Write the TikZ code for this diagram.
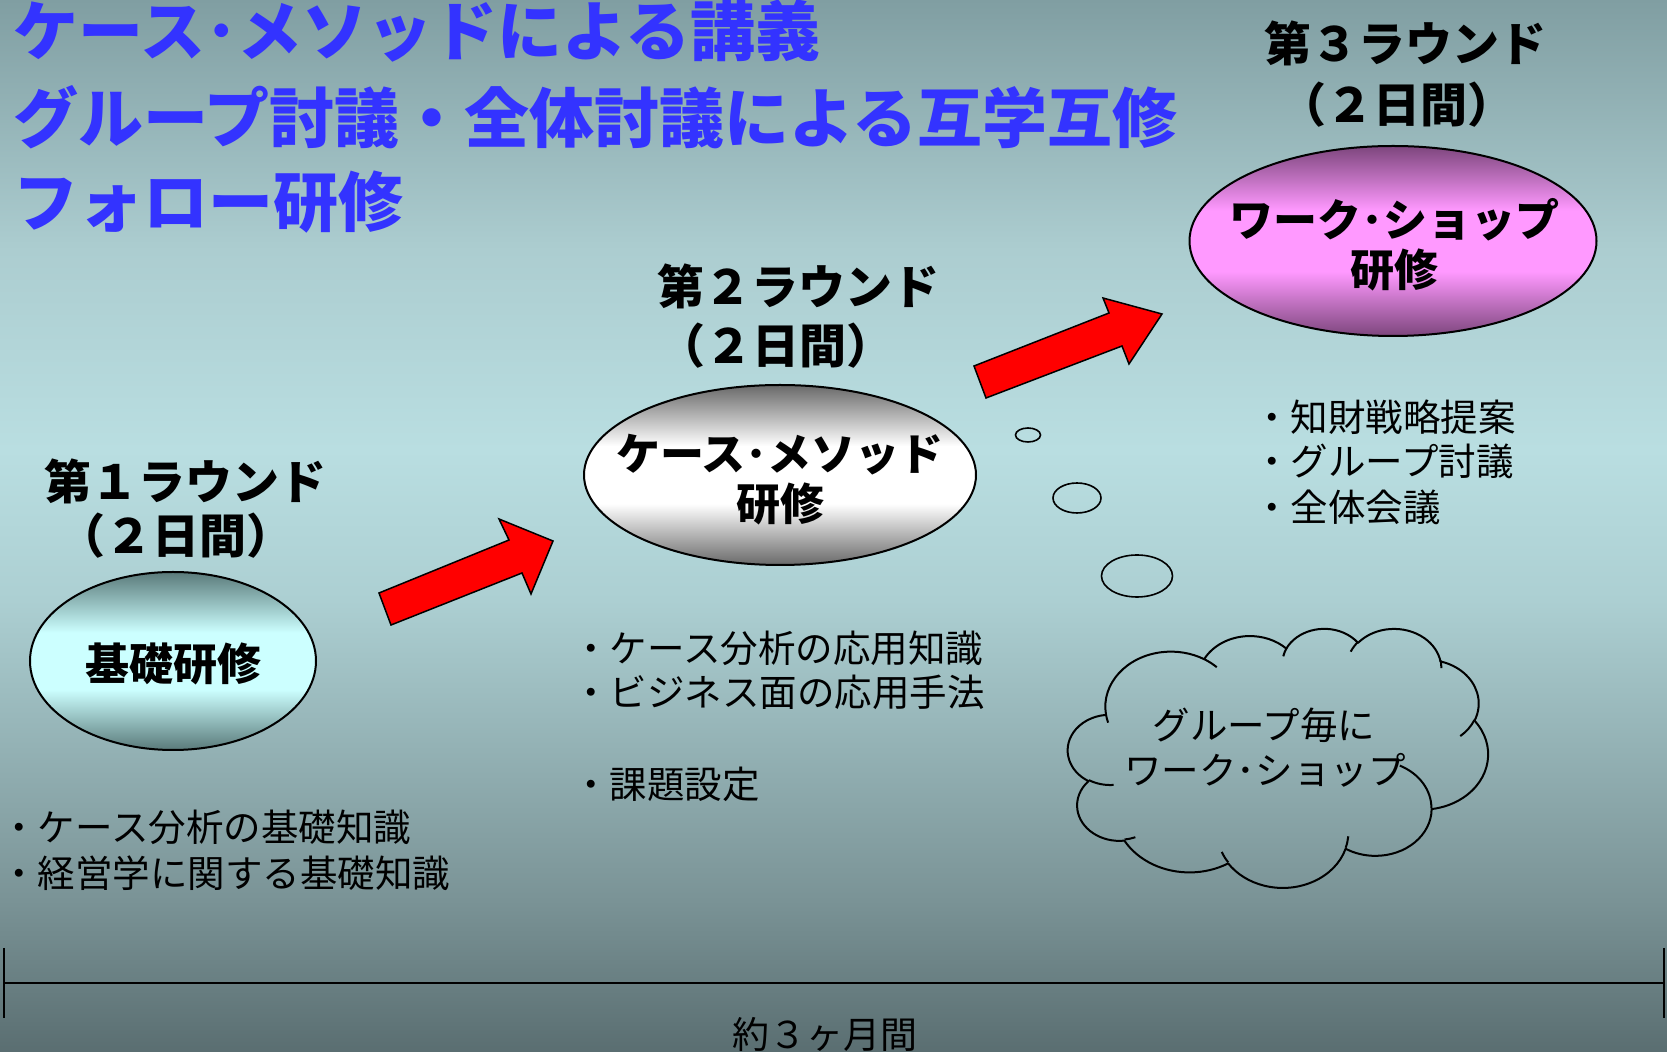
\documentclass[tikz,border=0pt]{standalone}
\usepackage{fontspec}
\setmainfont{Noto Sans CJK JP}
\usetikzlibrary{shapes.geometric}
\definecolor{bgTop}{RGB}{128,158,162}
\definecolor{bgA}{RGB}{172,205,208}
\definecolor{bgMid}{RGB}{185,222,225}
\definecolor{bgB}{RGB}{172,207,210}
\definecolor{bgC}{RGB}{122,147,150}
\definecolor{bgBot}{RGB}{90,110,113}
\definecolor{titleblue}{RGB}{51,51,255}
\definecolor{eAdark}{RGB}{90,122,122}
\definecolor{eAlight}{RGB}{204,255,255}
\definecolor{eBdark}{RGB}{105,105,105}
\definecolor{eBlight}{RGB}{255,255,255}
\definecolor{eCdark}{RGB}{125,70,125}
\definecolor{eClight}{RGB}{255,153,255}
\pgfdeclareverticalshading{bgshade}{100bp}{color(0bp)=(bgBot); color(25bp)=(bgBot); color(32.22bp)=(bgC); color(46.48bp)=(bgB); color(53.61bp)=(bgMid); color(63.12bp)=(bgA); color(75bp)=(bgTop); color(100bp)=(bgTop)}
\pgfdeclareverticalshading{eAshade}{100bp}{color(0bp)=(eAdark); color(25bp)=(eAdark); color(42bp)=(eAlight); color(58bp)=(eAlight); color(75bp)=(eAdark); color(100bp)=(eAdark)}
\pgfdeclareverticalshading{eBshade}{100bp}{color(0bp)=(eBdark); color(25bp)=(eBdark); color(42bp)=(eBlight); color(58bp)=(eBlight); color(75bp)=(eBdark); color(100bp)=(eBdark)}
\pgfdeclareverticalshading{eCshade}{100bp}{color(0bp)=(eCdark); color(25bp)=(eCdark); color(42bp)=(eClight); color(58bp)=(eClight); color(75bp)=(eCdark); color(100bp)=(eCdark)}
\begin{document}
\begin{tikzpicture}[x=0.5pt,y=-0.5pt,
  titlestyle/.style={anchor=west, inner sep=0pt, text=titleblue, font=\fontsize{32.5}{39}\selectfont\bfseries},
  roundlbl/.style={inner sep=0pt, font=\fontsize{23.5}{28}\selectfont\bfseries},
  ovaltext/.style={inner sep=0pt, align=center, font=\fontsize{22}{25}\selectfont\bfseries},
  bulletline/.style={anchor=west, inner sep=0pt, font=\fontsize{18.75}{22}\selectfont},
  plaintext/.style={inner sep=0pt, font=\fontsize{18.75}{22}\selectfont},
  oval/.style={ellipse, draw=black, line width=1pt, inner sep=0pt},
  bubble/.style={ellipse, draw=black, line width=0.8pt, inner sep=0pt},
  blockarrow/.style={fill=red, draw=black, line width=0.75pt, line join=miter},
  cloudline/.style={draw=black, line width=1pt, line join=round}]
\useasboundingbox (0,0) rectangle (1667,1052);
\shade[shading=bgshade] (0,0) rectangle (1667,1052);

% title
\node[titlestyle] (t1) at (13,31) {ケース･メソッドによる講義};
\node[titlestyle] (t2) at (13,117) {グループ討議・全体討議による互学互修};
\node[titlestyle] (t3) at (13,202) {フォロー研修};

% round labels
\node[roundlbl] (r1) at (186,481) {第１ラウンド};
\node[roundlbl] (r1d) at (176,536) {（２日間）};
\node[roundlbl] (r2) at (798,286) {第２ラウンド};
\node[roundlbl] (r2d) at (776,346) {（２日間）};
\node[roundlbl] (r3) at (1405,43) {第３ラウンド};
\node[roundlbl] (r3d) at (1397,105) {（２日間）};

% ovals
\node[oval, shading=eAshade, minimum width=143pt, minimum height=89pt] (e1) at (173,661) {};
\node[ovaltext] (e1t) at (173,664) {基礎研修};
\node[oval, shading=eBshade, minimum width=196pt, minimum height=90pt] (e2) at (780,475) {};
\node[ovaltext] (e2t) at (780,480) {ケース･メソッド\\研修};
\node[oval, shading=eCshade, minimum width=203.5pt, minimum height=95pt] (e3) at (1393,241) {};
\node[ovaltext] (e3t) at (1394,245) {ワーク･ショップ\\研修};

% block arrows
\draw[blockarrow] (379,593) -- (509,540) -- (499,519) -- (553,541) -- (531,594) -- (522,573) -- (391,625) -- cycle;
\draw[blockarrow] (974,366) -- (1109,313) -- (1103,298) -- (1162,314) -- (1129,364) -- (1122,346) -- (986,398) -- cycle;

% bullets
\node[bulletline] (b1a) at (0,827) {・ケース分析の基礎知識};
\node[bulletline] (b1b) at (0,873) {・経営学に関する基礎知識};
\node[bulletline] (b2a) at (572,648) {・ケース分析の応用知識};
\node[bulletline] (b2b) at (572,692) {・ビジネス面の応用手法};
\node[bulletline] (b2c) at (572,784) {・課題設定};
\node[bulletline] (b3a) at (1253,417) {・知財戦略提案};
\node[bulletline] (b3b) at (1253,461) {・グループ討議};
\node[bulletline] (b3c) at (1253,507) {・全体会議};

% thought bubbles
\node[bubble, minimum width=12.5pt, minimum height=7pt] (tb1) at (1028,435) {};
\node[bubble, minimum width=24pt, minimum height=15pt] (tb2) at (1077,498) {};
\node[bubble, minimum width=35.5pt, minimum height=21pt] (tb3) at (1137,576) {};

% cloud (PowerPoint cloud geometry, path units /100)
\begin{scope}[shift={(1068,628)}, xscale=0.97222, yscale=0.59954]
\draw[cloudline] (39.00,143.70)
 arc[start angle=-187.747, delta angle=128.107, x radius=67.53, y radius=91.90]
 arc[start angle=-152.02, delta angle=106.57, x radius=53.33, y radius=72.67]
 arc[start angle=-153.49, delta angle=116.17, x radius=43.65, y radius=59.45]
 arc[start angle=-139.69, delta angle=129.48, x radius=48.57, y radius=65.95]
 arc[start angle=-74.77, delta angle=97.98, x radius=53.33, y radius=72.73]
 arc[start angle=-37.52, delta angle=119.38, x radius=67.75, y radius=92.20]
 arc[start angle=0.46, delta angle=121.52, x radius=57.85, y radius=78.67]
 arc[start angle=16.85, delta angle=129.40, x radius=67.52, y radius=92.15]
 arc[start angle=58.98, delta angle=91.22, x radius=77.20, y radius=105.43]
 arc[start angle=83.31, delta angle=139.82, x radius=43.60, y radius=59.18]
 arc[start angle=120.36, delta angle=143.75, x radius=43.45, y radius=59.45]
 -- cycle;
\draw[cloudline]
 (46.93,261.77) arc[start angle=85.546, delta angle=34.81, x radius=43.45, y radius=59.45]
 (69.28,348.99) arc[start angle=68.24, delta angle=15.07, x radius=43.60, y radius=59.18]
 (164.78,390.90) arc[start angle=146.25, delta angle=12.22, x radius=67.52, y radius=92.15]
 (288.27,347.51) arc[start angle=4.737, delta angle=12.11, x radius=67.52, y radius=92.15]
 (341.29,229.54) arc[start angle=-64.03, delta angle=64.49, x radius=57.85, y radius=78.67]
 (417.98,153.54) arc[start angle=23.21, delta angle=26.43, x radius=53.33, y radius=72.73]
 (383.24,54.26) arc[start angle=-10.21, delta angle=11.03, x radius=48.57, y radius=65.95]
 (290.78,39.52) arc[start angle=-156.29, delta angle=16.60, x radius=48.57, y radius=65.95]
 (221.41,47.20) arc[start angle=-167.73, delta angle=14.24, x radius=43.65, y radius=59.45]
 (140.00,51.92) arc[start angle=-59.64, delta angle=13.91, x radius=67.53, y radius=91.90]
 (41.27,157.89) arc[start angle=163.19, delta angle=9.06, x radius=67.53, y radius=91.90];
\end{scope}
\node[plaintext] (c1) at (1264,725) {グループ毎に};
\node[plaintext] (c2) at (1265,770) {ワーク･ショップ};

% time line
\coordinate (tlL) at (4,983);
\coordinate (tlR) at (1664,983);
\draw[line width=1.35pt] (tlL) -- (tlR);
\draw[line width=0.75pt] ([yshift=17.5pt]tlL) -- ([yshift=-17.5pt]tlL);
\draw[line width=0.75pt] ([yshift=17.5pt]tlR) -- ([yshift=-17.5pt]tlR);
\node[inner sep=0pt, font=\fontsize{18.5}{22}\selectfont] (dur) at (825,1034) {約３ヶ月間};
\end{tikzpicture}
\end{document}
